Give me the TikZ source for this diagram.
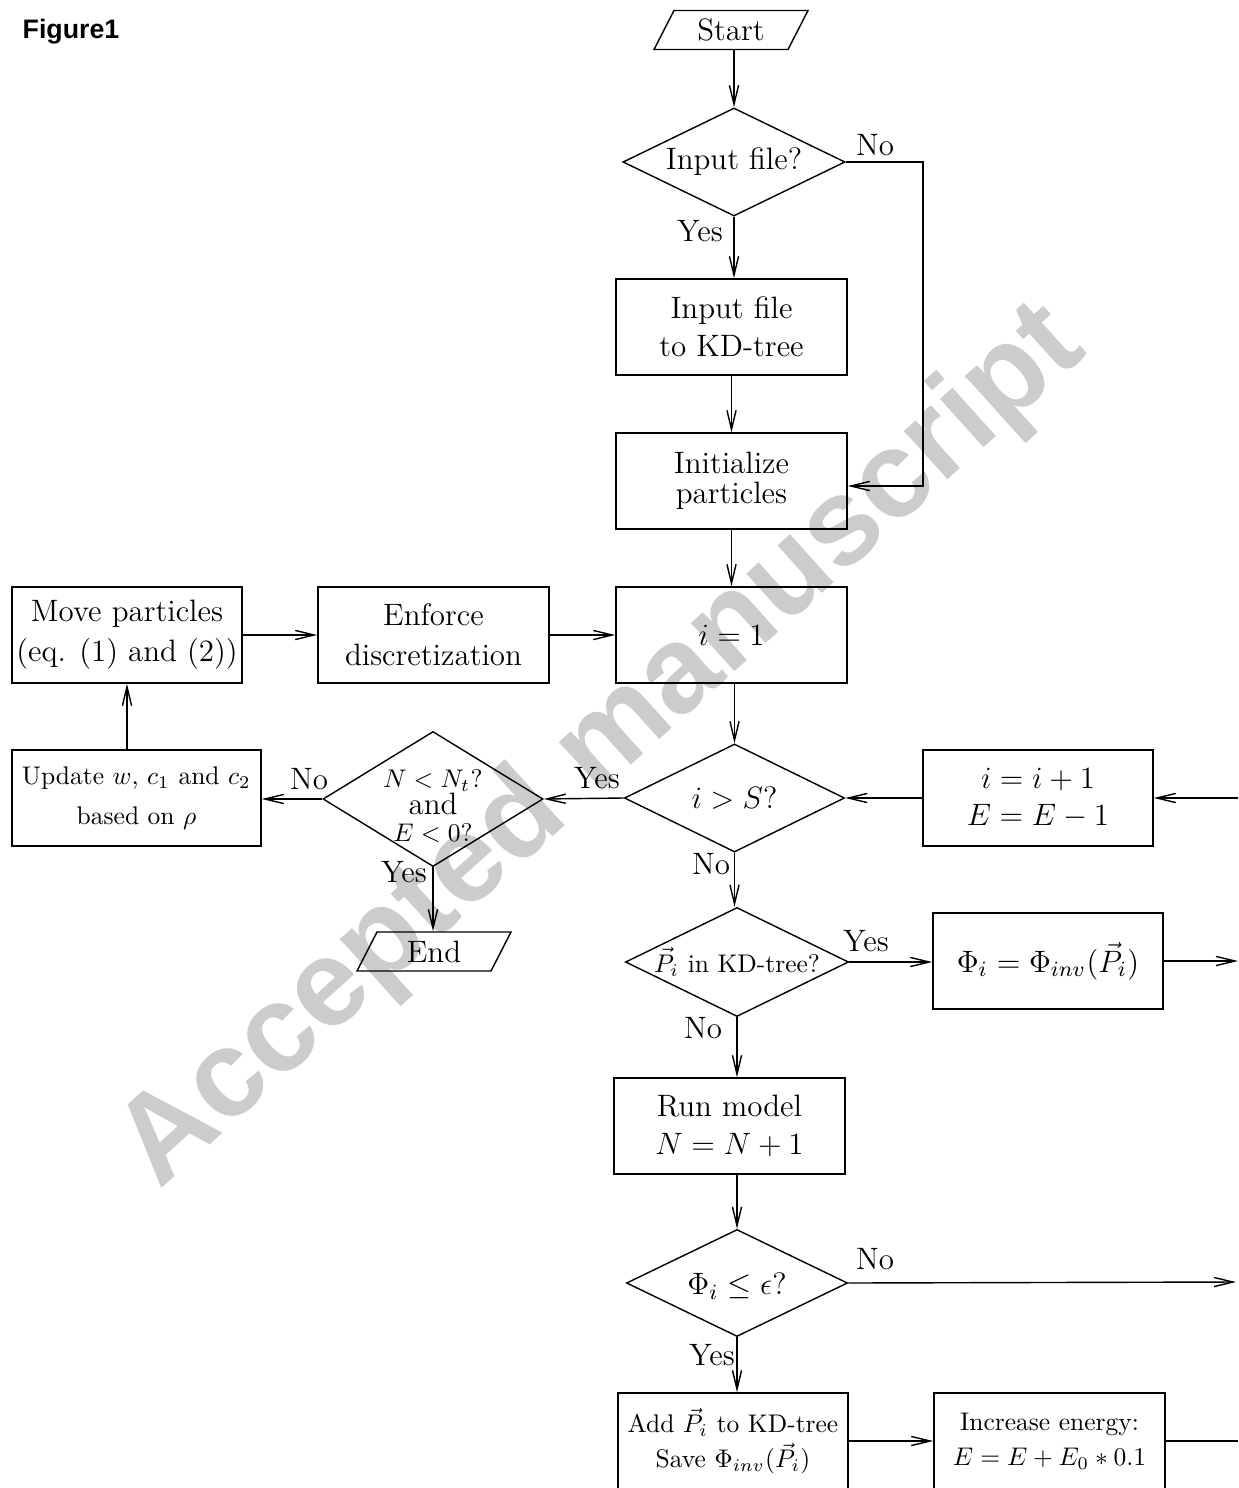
\documentclass[tikz,border=0pt]{standalone}
\usepackage{fontspec}
\setmainfont{lmroman12-regular.otf}
\newfontfamily\rmbig{lmroman12-regular.otf}
\newfontfamily\rmsmall{lmroman10-regular.otf}
\newfontfamily\arialfont{Liberation Sans}
\DeclareFontShape{OML}{cmm}{m}{it}{<-5.5>cmmi7<5.5-7>cmmi8<7-8>cmmi10<8->cmmi12}{}
\DeclareFontShape{OMS}{cmsy}{m}{n}{<-5.5>cmsy7<5.5-7>cmsy8<7->cmsy10}{}
\DeclareFontShape{OT1}{cmr}{m}{n}{<-5.5>cmr7<5.5-7>cmr8<7-8>cmr10<8->cmr12}{}
\usetikzlibrary{shapes.geometric,arrows.meta}
\newcommand\mainsz{\rmbig\fontsize{8.8}{10.8}\selectfont}
\newcommand\smallsz{\rmsmall\fontsize{7.25}{10}\selectfont}
\begin{document}
\begin{tikzpicture}[x=0.01cm,y=-0.01cm,line width=0.4pt,
  every node/.style={font=\mainsz,inner sep=0pt},
  box/.style={draw,rectangle,align=center,minimum height=0.96cm,minimum width=2.31cm},
  dia/.style={draw,diamond,inner sep=0pt},
  term/.style={minimum height=0.39cm,minimum width=1.54cm},
  lbl/.style={font=\mainsz},
  arr/.style={-{Straight Barb[length=5.4pt,width=2.6pt]}}]
\useasboundingbox (0,0) rectangle (1238,1488);
% watermark
\node[font=\arialfont\bfseries\fontsize{35}{40}\selectfont,text=black!20,rotate=42] (wm) at (603,748) {Accepted manuscript};
% title
\node[anchor=west,font=\arialfont\bfseries\fontsize{7.6}{9}\selectfont] (fig) at (22,32) {Figure1};
% terminals
\node[term] (start) at (731,30) {Start};
\draw ([shift={(-77,19.5)}]start.center) -- ++(134,0) -- ++(20,-39) -- ++(-134,0) -- cycle;
\node[term] (endn) at (434,951.5) {End};
\draw ([shift={(-77,19.5)}]endn.center) -- ++(134,0) -- ++(20,-39) -- ++(-134,0) -- cycle;
% diamonds
\node[dia,minimum width=2.22cm,minimum height=1.08cm] (d1) at (734,162) {};
\node (d1t) at (d1.center) {Input file?};
\node[dia,minimum width=2.2cm,minimum height=1.35cm] (dN) at (433,799) {};
\node[align=center,font=\rmsmall\fontsize{7.25}{7.6}\selectfont] (dNt) at (433,806) {$N<N_t$?\\{\mainsz and}\\$E<0$?};
\node[dia,minimum width=2.2cm,minimum height=1.08cm] (dS) at (734.5,798) {};
\node (dSt) at (dS.center) {$i>S$?};
\node[dia,minimum width=2.23cm,minimum height=1.09cm] (dP) at (737,962) {};
\node[font=\smallsz] (dPt) at (dP.center) {$\vec{P}_i$ in KD-tree?};
\node[dia,minimum width=2.21cm,minimum height=1.07cm] (dPhi) at (737,1283) {};
\node (dPhit) at ([yshift=-0.03cm]dPhi.center) {$\Phi_i\leq\epsilon$?};
% boxes
\node[box] (inbox) at (731.5,327) {Input file\\to KD-tree};
\node[box,font=\rmbig\fontsize{8.8}{8.6}\selectfont] (init) at (731.5,481) {Initialize\\particles};
\node[box] (ione) at (731.5,635) {$i=1$};
\node[box,minimum width=2.3cm,font=\rmbig\fontsize{8.8}{11.4}\selectfont] (move) at (127,635) {Move particles\\(eq. (1) and (2))};
\node[box,font=\rmbig\fontsize{8.8}{11.4}\selectfont] (enf) at (433.5,635) {Enforce\\discretization};
\node[box,minimum width=2.49cm,font=\rmsmall\fontsize{7.25}{11.4}\selectfont] (upd) at (136.5,798) {Update $w$, $c_1$ and $c_2$\\based on $\rho$};
\node[box,minimum width=2.3cm,font=\rmbig\fontsize{8.8}{10.5}\selectfont] (inc1) at (1038,798) {$i=i+1$\\$E=E-1$};
\node[box,minimum width=2.3cm] (phi) at (1048,961) {$\Phi_i=\Phi_{inv}(\vec{P}_i)$};
\node[box] (run) at (729.5,1126) {Run model\\$N=N+1$};
\node[box,minimum width=2.3cm,font=\smallsz] (add) at (733,1441) {Add $\vec{P}_i$ to KD-tree\\Save $\Phi_{inv}(\vec{P}_i)$};
\node[box,font=\smallsz] (incE) at (1049.5,1441) {Increase energy:\\$E=E+E_0*0.1$};
% free ends at the right margin
\coordinate (cno) at (923,162);
\coordinate (rin) at (1238,798);
\coordinate (rout1) at (1238,961);
\coordinate (rout2) at (1236,1282);
\coordinate (rout3) at (1238,1441);
% labels
\node[lbl] (l1) at (875,145) {No};
\node[lbl] (l2) at (700,231) {Yes};
\node[lbl] (l3) at (309,779) {No};
\node[lbl] (l4) at (404,872) {Yes};
\node[lbl] (l5) at (597,778) {Yes};
\node[lbl] (l6) at (711,864) {No};
\node[lbl] (l7) at (866,941) {Yes};
\node[lbl] (l8) at (703,1028) {No};
\node[lbl] (l9) at (875,1259) {No};
\node[lbl] (l10) at (712,1355) {Yes};
% connectors
\draw[arr] (start.south -| d1.north) -- (d1.north);
\draw[arr] (d1.south) -- (d1.south |- inbox.north);
\draw[arr] (d1.east) -- (cno) |- ([yshift=-0.05cm]init.east);
\draw[arr] (inbox.south) -- (init.north);
\draw[arr] (init.south) -- (ione.north);
\draw[arr] (move.east) -- (enf.west);
\draw[arr] (enf.east) -- (ione.west);
\draw[arr] (ione.south -| dS.north) -- (dS.north);
\draw[arr] (dS.west) -- (dN.east);
\draw[arr] (dN.west) -- (upd.east |- dN.west);
\draw[arr] (move.south |- upd.north) -- (move.south);
\draw[arr] (dN.south) -- (dN.south |- endn.north);
\draw[arr] (dS.south) -- (dS.south |- dP.north);
\draw[arr] (inc1.west) -- (dS.east);
\draw[arr] (rin) -- (inc1.east);
\draw[arr] (dP.east) -- (phi.west |- dP.east);
\draw[arr] (phi.east) -- (rout1);
\draw[arr] (dP.south) -- (dP.south |- run.north);
\draw[arr] (run.south -| dPhi.north) -- (dPhi.north);
\draw[arr] (dPhi.east) -- (rout2);
\draw[arr] (dPhi.south) -- (dPhi.south |- add.north);
\draw[arr] (add.east) -- (incE.west);
\draw (incE.east) -- (rout3);
\end{tikzpicture}
\end{document}
